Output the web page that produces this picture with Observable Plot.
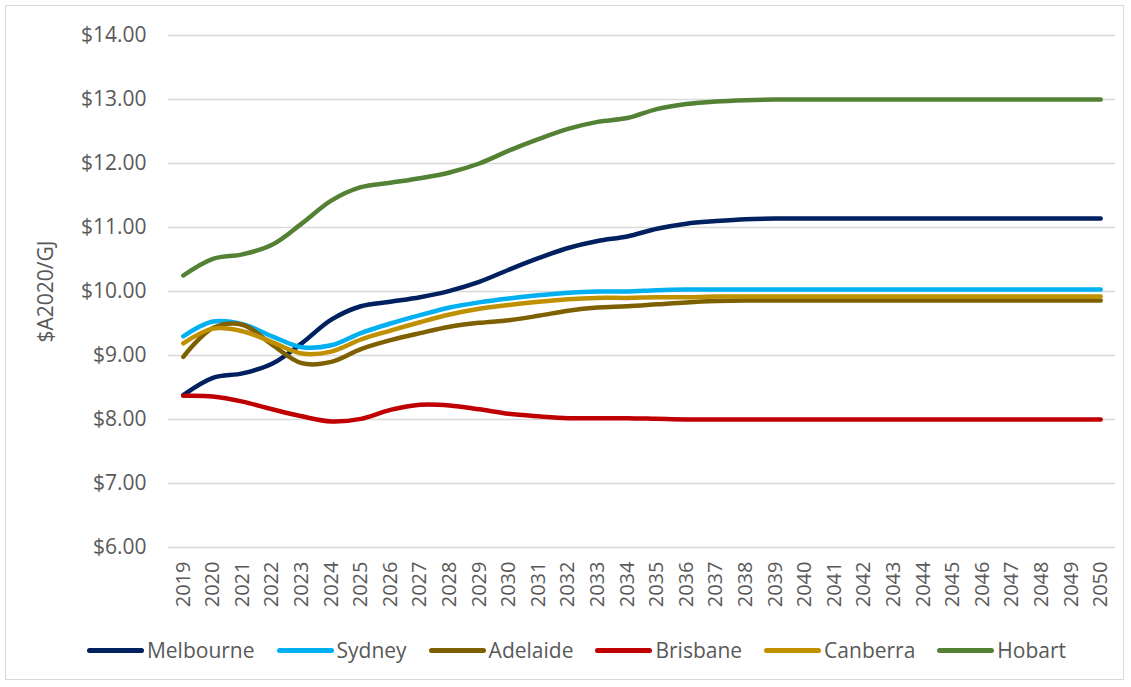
<!DOCTYPE html>
<html>
<head>
<meta charset="utf-8">
<script src="https://cdn.jsdelivr.net/npm/d3@7"></script>
<script src="https://cdn.jsdelivr.net/npm/@observablehq/plot@0.6"></script>
<style>
  html, body { margin: 0; padding: 0; background: #fff; }
  #wrap { position: relative; width: 1131px; height: 687px; overflow: hidden; font-family: "Open Sans", sans-serif; }
  #border { position: absolute; left: 5px; top: 5px; width: 1119px; height: 675px; border: 1px solid #d9d9d9; box-sizing: border-box; }
  #chart { position: absolute; left: 0; top: 0; }
  #legend { position: absolute; left: 0; top: 636px; width: 1131px; padding-left: 22px; box-sizing: border-box; display: flex; justify-content: center; align-items: center; font-size: 21px; color: #595959; }
  .item { display: flex; align-items: center; margin: 0 11px; }
  .sw { width: 57px; height: 5px; border-radius: 3px; margin-right: 3px; }
</style>
</head>
<body>
<div id="wrap">
  <div id="border"></div>
  <div id="chart"></div>
  <div id="legend"></div>
</div>
<script>
const years = [2019,2020,2021,2022,2023,2024,2025,2026,2027,2028,2029,2030,2031,2032,2033,2034,2035,2036,2037,2038,2039,2040,2041,2042,2043,2044,2045,2046,2047,2048,2049,2050];
const melbourne = [8.38,8.65,8.72,8.87,9.19,9.56,9.77,9.84,9.91,10.01,10.15,10.34,10.52,10.68,10.79,10.86,10.98,11.06,11.10,11.13,11.14,11.14,11.14,11.14,11.14,11.14,11.14,11.14,11.14,11.14,11.14,11.14];
const sydney = [9.30,9.53,9.49,9.30,9.13,9.16,9.35,9.50,9.63,9.75,9.83,9.89,9.94,9.98,10.00,10.00,10.02,10.03,10.03,10.03,10.03,10.03,10.03,10.03,10.03,10.03,10.03,10.03,10.03,10.03,10.03,10.03];
const adelaide = [8.98,9.43,9.48,9.17,8.88,8.90,9.10,9.24,9.35,9.45,9.51,9.55,9.62,9.70,9.75,9.77,9.80,9.83,9.85,9.86,9.86,9.86,9.86,9.86,9.86,9.86,9.86,9.86,9.86,9.86,9.86,9.86];
const brisbane = [8.37,8.36,8.28,8.16,8.05,7.97,8.01,8.15,8.23,8.22,8.16,8.09,8.05,8.02,8.02,8.02,8.01,8.00,8.00,8.00,8.00,8.00,8.00,8.00,8.00,8.00,8.00,8.00,8.00,8.00,8.00,8.00];
const canberra = [9.19,9.42,9.38,9.21,9.03,9.06,9.25,9.39,9.52,9.64,9.73,9.79,9.84,9.88,9.90,9.90,9.91,9.91,9.92,9.92,9.92,9.92,9.92,9.92,9.92,9.92,9.92,9.92,9.92,9.92,9.92,9.92];
const hobart = [10.25,10.51,10.58,10.73,11.06,11.42,11.63,11.70,11.77,11.86,12.00,12.20,12.38,12.54,12.65,12.71,12.85,12.93,12.97,12.99,13.00,13.00,13.00,13.00,13.00,13.00,13.00,13.00,13.00,13.00,13.00,13.00];
const seriesNames = ["Melbourne","Sydney","Adelaide","Brisbane","Canberra","Hobart"];
const seriesValues = [melbourne, sydney, adelaide, brisbane, canberra, hobart];
const seriesColors = ["#002060","#00B0F0","#7F6000","#C00000","#BF9000","#548235"];
const yTicks = [6,7,8,9,10,11,12,13,14];
const yTitle = "$A2020/GJ";

const rows = [];
seriesNames.forEach((name, i) => {
  years.forEach((yr, j) => rows.push({city: name, year: yr, value: seriesValues[i][j]}));
});

const W = 1131, H = 625;
const chart = Plot.plot({
  width: W,
  height: H,
  marginLeft: 168,
  marginRight: 16,
  marginTop: 35,
  marginBottom: H - 547,
  style: {fontFamily: "'Open Sans', sans-serif", fontSize: "21px", color: "#595959", background: "transparent"},
  x: {domain: [years[0] - 0.5, years[years.length - 1] + 0.5]},
  y: {domain: [6, 14]},
  color: {domain: seriesNames, range: seriesColors},
  marks: [
    Plot.ruleY(yTicks, {stroke: "#d9d9d9", strokeWidth: 1.5}),
    Plot.axisY({ticks: yTicks, tickSize: 0, tickPadding: 22, tickFormat: d => "$" + d.toFixed(2), label: null, fontSize: 21, fill: "#595959"}),
    Plot.axisX({ticks: years, tickSize: 0, tickPadding: 14, tickRotate: -90, tickFormat: d => String(d), label: null, fontSize: 20, fill: "#595959"}),
    Plot.text([yTitle], {frameAnchor: "left", textAnchor: "middle", dx: -122, rotate: -90, fontSize: 21, fill: "#595959"}),
    Plot.line(rows, {x: "year", y: "value", z: "city", stroke: "city", strokeWidth: 4.5, strokeLinecap: "round", strokeLinejoin: "round", curve: "catmull-rom"})
  ]
});
document.getElementById("chart").appendChild(chart);

const legend = document.getElementById("legend");
seriesNames.forEach((name, i) => {
  const it = document.createElement("div");
  it.className = "item";
  const sw = document.createElement("div");
  sw.className = "sw";
  sw.style.background = seriesColors[i];
  const tx = document.createElement("span");
  tx.textContent = name;
  it.appendChild(sw);
  it.appendChild(tx);
  legend.appendChild(it);
});
</script>
</body>
</html>
